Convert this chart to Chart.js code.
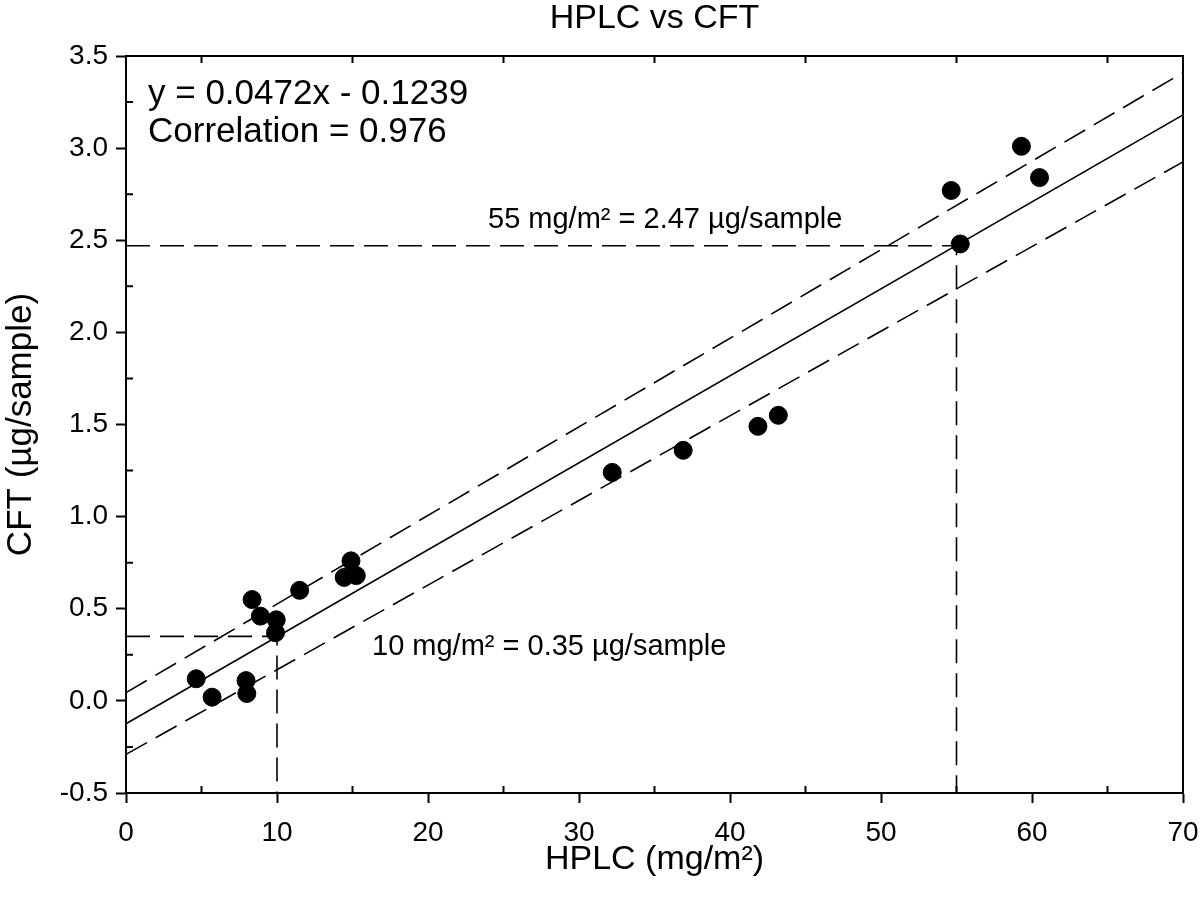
<!DOCTYPE html>
<html>
<head>
<meta charset="utf-8">
<script src="https://cdn.jsdelivr.net/npm/chart.js@4"></script>
<style>
  html, body { margin: 0; padding: 0; background: #fff; }
  #wrap { width: 1200px; height: 904px; }
</style>
</head>
<body>
<div id="wrap"><canvas id="chart"></canvas></div>
<script>
// measured points
const hplc = [4.65, 5.7, 7.95, 8.0, 8.35, 8.9, 9.95, 9.9, 11.5, 14.45, 14.9, 15.25, 32.2, 36.9, 41.85, 43.2, 54.65, 55.25, 59.3, 60.5];
const cft = [0.12, 0.02, 0.11, 0.04, 0.55, 0.46, 0.44, 0.37, 0.60, 0.67, 0.76, 0.68, 1.24, 1.36, 1.49, 1.55, 2.77, 2.48, 3.01, 2.84];

// regression line and bands (end points)
const fitX = [0, 70];
const fitY = [-0.1239, 3.1801];
const upperY = [0.045, 3.41];
const lowerY = [-0.29, 2.925];

// reference lines
const ref55X = [0, 55, 55];
const ref55Y = [2.47, 2.47, -0.5];
const ref10X = [0, 10, 10];
const ref10Y = [0.35, 0.35, -0.5];

const xMinorTicks = [5, 15, 25, 35, 45, 55, 65];
const yMinorTicks = [-0.25, 0.25, 0.75, 1.25, 1.75, 2.25, 2.75, 3.25];

const FONT = "'Liberation Sans', Arial, Helvetica, sans-serif";

function pts(xs, ys){
    return xs.map((x, i) => ({x: x, y: ys[i]}));
}

function lineSet(xs, ys, dash){
    return {
        data: pts(xs, ys),
        showLine: true,
        borderColor: 'black',
        borderWidth: 1.6,
        borderDash: dash,
        pointRadius: 0,
        fill: false
    };
}

const framePlugin = {
    id: 'frame',
    afterDraw(chart){
        const ctx = chart.ctx;
        const a = chart.chartArea;
        const xs = chart.scales.x;
        const ys = chart.scales.y;
        ctx.save();
        ctx.strokeStyle = 'black';
        ctx.lineWidth = 2;
        ctx.beginPath();
        ctx.moveTo(a.left, a.top);
        ctx.lineTo(a.right, a.top);
        ctx.lineTo(a.right, a.bottom);
        ctx.stroke();

        // inward minor ticks
        ctx.beginPath();
        xMinorTicks.forEach(v => {
            const px = xs.getPixelForValue(v);
            ctx.moveTo(px, a.bottom);
            ctx.lineTo(px, a.bottom - 7);
            ctx.moveTo(px, a.top);
            ctx.lineTo(px, a.top + 7);
        });
        yMinorTicks.forEach(v => {
            const py = ys.getPixelForValue(v);
            ctx.moveTo(a.left, py);
            ctx.lineTo(a.left + 7, py);
        });
        ctx.stroke();

        // title over the plot box
        ctx.fillStyle = 'black';
        ctx.textAlign = 'center';
        ctx.textBaseline = 'middle';
        ctx.font = '34px ' + FONT;
        ctx.fillText('HPLC vs CFT', (a.left + a.right) / 2, 19);

        // text
        ctx.textAlign = 'left';
        ctx.textBaseline = 'alphabetic';
        ctx.font = '35px ' + FONT;
        ctx.fillText('y = 0.0472x - 0.1239', 148, 104);
        ctx.fillText('Correlation = 0.976', 148, 142);

        ctx.font = '29px ' + FONT;
        ctx.fillText('55 mg/m\u00b2 = 2.47 \u00b5g/sample', 488, 228);
        ctx.fillText('10 mg/m\u00b2 = 0.35 \u00b5g/sample', 372, 655);
        ctx.restore();
    }
};

new Chart('chart', {
    type: 'scatter',
    data: {
        datasets: [
            {
                data: pts(hplc, cft),
                backgroundColor: 'black',
                borderColor: 'black',
                pointRadius: 9,
                pointHoverRadius: 9
            },
            lineSet(fitX, fitY, []),
            lineSet(fitX, upperY, [24, 10]),
            lineSet(fitX, lowerY, [24, 10]),
            lineSet(ref55X, ref55Y, [24, 10]),
            lineSet(ref10X, ref10Y, [24, 10])
        ]
    },
    options: {
        responsive: true,
        maintainAspectRatio: false,
        animation: false,
        layout: { padding: { left: 0, right: 17, top: 56, bottom: 0 } },
        plugins: {
            legend: { display: false },
            tooltip: { enabled: false },
            title: { display: false }
        },
        scales: {
            x: {
                type: 'linear',
                min: 0,
                max: 70,
                afterFit: s => { s.height = 111; s.paddingRight = 0; s.paddingLeft = 0; },
                border: { display: true, color: 'black', width: 2 },
                grid: { drawOnChartArea: false, drawTicks: true, tickLength: 10, tickColor: 'black', tickWidth: 2 },
                ticks: {
                    stepSize: 10,
                    color: 'black',
                    padding: 13,
                    font: { family: FONT, size: 28 }
                },
                title: {
                    display: true,
                    text: 'HPLC (mg/m\u00b2)',
                    color: 'black',
                    font: { family: FONT, size: 34 },
                    padding: { top: 0, bottom: 24 }
                }
            },
            y: {
                type: 'linear',
                min: -0.5,
                max: 3.5,
                afterFit: s => { s.width = 126; s.paddingTop = 0; s.paddingBottom = 0; },
                border: { display: true, color: 'black', width: 2 },
                grid: { drawOnChartArea: false, drawTicks: true, tickLength: 10, tickColor: 'black', tickWidth: 2 },
                ticks: {
                    stepSize: 0.5,
                    color: 'black',
                    padding: 8,
                    font: { family: FONT, size: 28 },
                    callback: v => v.toFixed(1)
                },
                title: {
                    display: true,
                    text: 'CFT (\u00b5g/sample)',
                    color: 'black',
                    font: { family: FONT, size: 35 },
                    padding: { top: 0, bottom: 0 }
                }
            }
        }
    },
    plugins: [framePlugin]
});
</script>
</body>
</html>
